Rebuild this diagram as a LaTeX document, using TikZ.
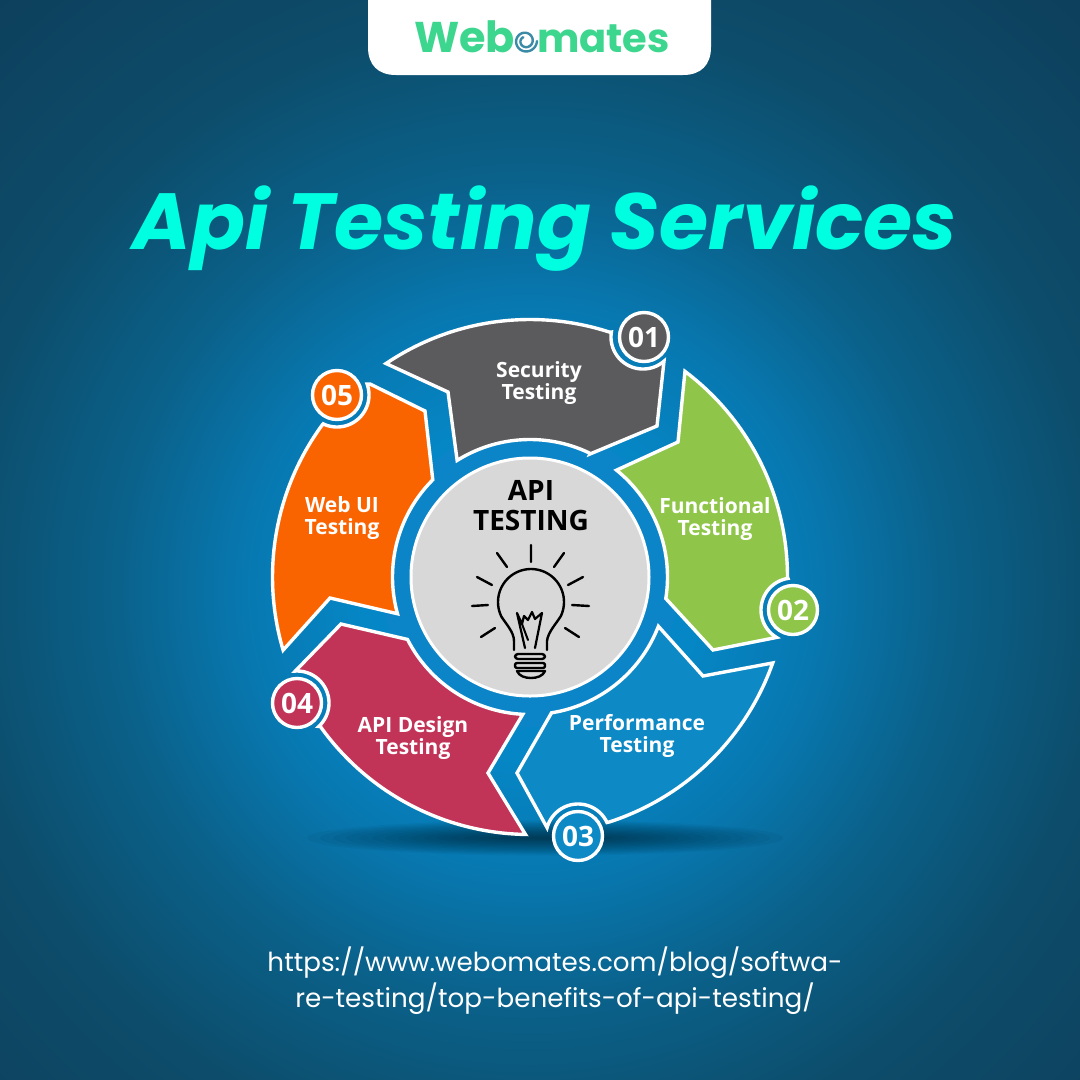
\documentclass[tikz,border=0pt]{standalone}
\usepackage{fontspec}
\setmainfont{Open Sans}
\newfontfamily\popp{Poppins}
\definecolor{segGray}{HTML}{5B5B5D}
\definecolor{segGreen}{HTML}{8FC649}
\definecolor{segBlue}{HTML}{0D8AC6}
\definecolor{segRed}{HTML}{C13357}
\definecolor{segOrange}{HTML}{FA6400}
\definecolor{hubGray}{HTML}{D8D8D8}
\definecolor{ringBlue}{HTML}{0B85C8}
\definecolor{titleCyan}{HTML}{00FFE1}
\definecolor{logoGreen}{HTML}{3DD68F}
\definecolor{swirl}{HTML}{3B8AA6}
\pgfdeclareradialshading{bgshade}{\pgfpointorigin}{%
 rgb(0bp)=(0.02,0.53,0.78);rgb(5bp)=(0.02,0.53,0.78);rgb(9bp)=(0.03,0.47,0.69);rgb(13bp)=(0.04,0.38,0.54);rgb(18bp)=(0.05,0.30,0.42);rgb(25bp)=(0.05,0.25,0.36);rgb(50bp)=(0.05,0.25,0.36)}
\tikzset{
 arcp/.style n args={5}{insert path={-- plot[domain=#4:#5,samples=48] ({#1+#3*cos(\x)},{#2+#3*sin(\x)})}},
 arcs/.style n args={5}{insert path={plot[domain=#4:#5,samples=48] ({#1+#3*cos(\x)},{#2+#3*sin(\x)})}},
 segment/.style={draw=white,line width=3.4pt,line join=miter,miter limit=12},
 badge/.style={circle,draw=white,line width=3.4pt,minimum size=49pt,inner sep=0pt,text=white,font=\bfseries\fontsize{28}{30}\selectfont},
 seglabel/.style={text=white,align=center,inner sep=0pt,font=\bfseries\fontsize{21}{21.5}\selectfont},
 bulbline/.style={draw=black,line width=2.4pt,line cap=round,line join=round}
}
\begin{document}
\begin{tikzpicture}[x=1pt,y=-1pt]
\useasboundingbox (0,0) rectangle (1080,1080);
\begin{scope}
\clip (0,0) rectangle (1080,1080);
\shade[shading=bgshade] (-270,-210) rectangle (1330,1390);
\end{scope}
% shadow
\begin{scope}
\foreach \k in {1,...,16}{
 \fill[black,opacity=0.04] (545,838) ellipse ({30+13*\k} and {1.1*\k});
}
\end{scope}
% logo plate
\fill[white] (368,-5) -- (368,47) .. controls (368,65) and (378,75) .. (396,75) -- (683,75) .. controls (701,75) and (711,65) .. (711,47) -- (711,-5) -- cycle;
\node[anchor=base west,inner sep=0pt,text=logoGreen,font=\popp\bfseries\fontsize{43}{43}\selectfont] (logoa) at (414,52) {Web};
\node[anchor=base west,inner sep=0pt,text=logoGreen,font=\popp\bfseries\fontsize{40}{40}\selectfont] (logob) at (537,52) {mates};
\draw[swirl,line width=2.4pt,line cap=round] plot[domain=0:600,samples=70] ({525.5+(11.5-0.012*\x)*cos(\x)},{41+(11.5-0.012*\x)*sin(\x)});
% title
\node[anchor=base,inner sep=0pt,text=titleCyan,font=\popp\bfseries\itshape\fontsize{79.6}{80}\selectfont] (title) at (545,249) {Api Testing Services};
% ring + hub
\fill[ringBlue] (530,577) circle (150);
% Security
\path[segment,fill=segGray] [arcs={530}{577}{257.5}{236}{288}] [arcp={643}{337}{32}{189}{49}] -- (657,426) -- (590,454) [arcp={530}{577}{137.5}{296}{238}] -- (448,392) -- cycle;
\node[badge,fill=segGray] (b1) at (644,337) {01};
\node[seglabel] (l1) at (539,383) {Security\\Testing};
% Functional
\path[segment,fill=segGreen] [arcs={530}{577}{257.5}{307}{360}] [arcp={793}{610}{32}{261}{121}] -- (713,650) [arcp={530}{577}{137.5}{9}{-51}] -- (678,442) -- cycle;
\node[badge,fill=segGreen] (b2) at (793,610) {02};
\node[seglabel] (l2) at (715,519) {Functional\\Testing};
% Performance
\path[segment,fill=segBlue] [arcs={530}{577}{137.5}{81}{21}] -- (703,676) [arcp={530}{577}{257.5}{19.5}{72}] [arcp={578}{836}{32}{335}{195}] -- (517,773) -- cycle;
\node[badge,fill=segBlue] (b3) at (578,836) {03};
\node[seglabel] (l3) at (637,736) {Performance\\Testing};
% API Design
\path[segment,fill=segRed] [arcs={530}{577}{137.5}{153}{93}] -- (488,773) [arcp={530}{577}{257.5}{91}{144.5}] [arcp={297}{703}{32}{47}{-93}] -- (341,624) -- cycle;
\node[badge,fill=segRed] (b4) at (297,703) {04};
\node[seglabel] (l4) at (413,738) {API Design\\Testing};
% Web UI
\path[segment,fill=segOrange] [arcs={530}{577}{257.5}{216.5}{163.5}] -- (330,598) [arcp={530}{577}{137.5}{164.5}{225}] -- (425,411) -- (370,384) [arcp={337}{395}{32}{340}{478}] -- cycle;
\node[badge,fill=segOrange] (b5) at (337,395) {05};
\node[seglabel] (l5) at (342,518) {Web UI\\Testing};
% hub
\node[circle,fill=hubGray,draw=white,line width=3pt,minimum size=238pt,inner sep=0pt] (hub) at (530,577) {};
\node[align=center,inner sep=0pt,text=black,font=\bfseries\fontsize{28}{30}\selectfont] (hubt) at (531,506) {API\\TESTING};
% bulb
\draw[bulbline] (531,545)--(531,562) (497,553)--(507,567) (564,553)--(554,567)
 (477,577)--(492,585) (583,577)--(568,585) (472,606)--(488,605) (589,606)--(572,605)
 (481,637)--(495,628) (579,637)--(565,628);
\draw[bulbline] (514,650) -- (514,641) .. controls (514,632) and (506,624) .. (501,616) [arcp={531}{602}{33}{155}{385}] .. controls (556,624) and (548,632) .. (547,641) -- (547,650);
\draw[bulbline,line width=2.2pt] (525,648) -- (517,613) -- (522,624) -- (524,616) -- (528,620) -- (532,612) -- (535,619) -- (542,613) -- (535,648);
\draw[bulbline,line width=2pt] (522,624) -- (528,640);
\draw[bulbline,rounded corners=3pt] (515,654) rectangle (545,659);
\draw[bulbline,rounded corners=2pt] (515,663) rectangle (545,668);
\draw[bulbline] (517,671) .. controls (519,676) and (525,678) .. (531,678) .. controls (537,678) and (543,676) .. (545,671) -- cycle;
% url
\node[align=center,inner sep=0pt,text=white,font=\popp\fontsize{26.2}{36}\selectfont] (url) at (555,981) {https://www.webomates.com/blog/softwa-\\re-testing/top-benefits-of-api-testing/};
\end{tikzpicture}
\end{document}
